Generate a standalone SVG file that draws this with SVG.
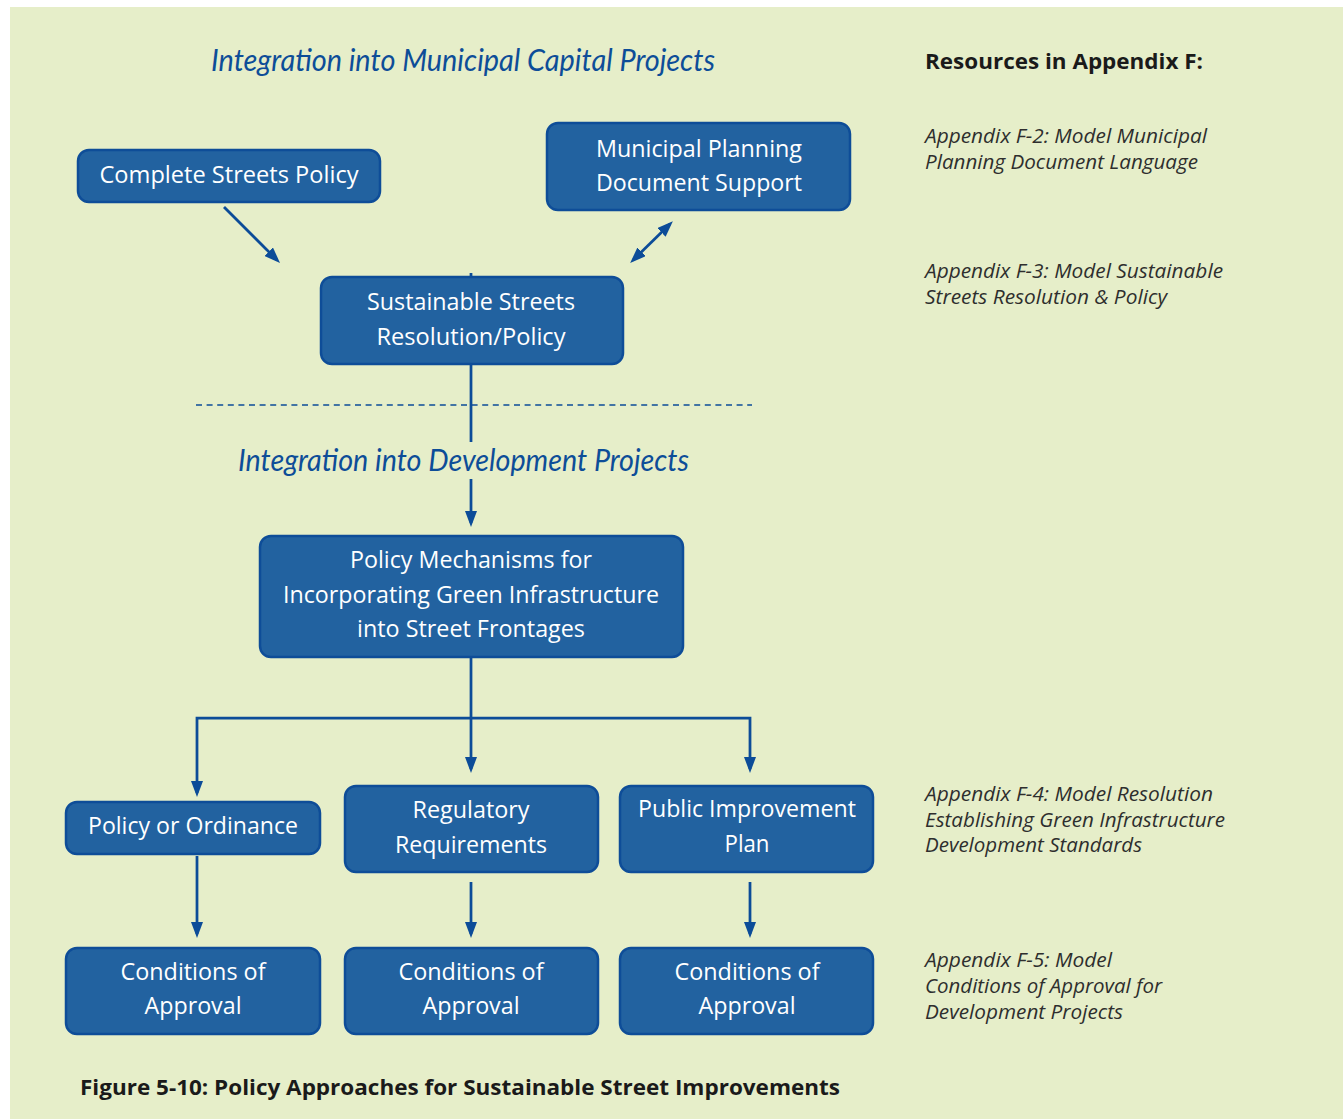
<svg xmlns="http://www.w3.org/2000/svg" width="1343" height="1119" viewBox="0 0 1343 1119">
<style>
.box{fill:#2262a0;stroke:#0e4d98;stroke-width:2.5}
.bt{font-family:"Open Sans","Liberation Sans",sans-serif;font-size:23.5px;fill:#ffffff;text-anchor:middle}
.hd{font-family:Lato,"Liberation Sans",sans-serif;font-style:italic;font-size:30px;fill:#0d4d98}
.ap{font-family:"Open Sans","Liberation Sans",sans-serif;font-style:italic;font-size:19.6px;fill:#2e2e2e}
.bold{font-family:"Open Sans","Liberation Sans",sans-serif;font-weight:bold;font-size:21px;fill:#1a1a1a}
.cn{stroke:#0c4c98;stroke-width:2.75;fill:none}
</style>
<defs>
<marker id="ah" viewBox="0 0 16 12" refX="12" refY="6" markerWidth="16" markerHeight="12" markerUnits="userSpaceOnUse" orient="auto-start-reverse">
<path d="M0,0 L16,6 L0,12 z" fill="#0c4c98"/>
</marker>
</defs>
<rect x="0" y="0" width="1343" height="1119" fill="#ffffff"/>
<rect x="10" y="7" width="1333" height="1112" fill="#e6eec9"/>

<text class="hd" x="211" y="71" textLength="504" lengthAdjust="spacingAndGlyphs">Integration into Municipal Capital Projects</text>
<text class="hd" x="238" y="471" textLength="451" lengthAdjust="spacingAndGlyphs">Integration into Development Projects</text>
<text class="bold" x="925" y="69" textLength="278" lengthAdjust="spacingAndGlyphs">Resources in Appendix F:</text>

<g id="appendix-texts">
<text class="ap" x="925" y="143" textLength="282" lengthAdjust="spacingAndGlyphs">Appendix F-2: Model Municipal</text>
<text class="ap" x="925" y="169" textLength="273" lengthAdjust="spacingAndGlyphs">Planning Document Language</text>
<text class="ap" x="925" y="278" textLength="298" lengthAdjust="spacingAndGlyphs">Appendix F-3: Model Sustainable</text>
<text class="ap" x="925" y="304" textLength="242" lengthAdjust="spacingAndGlyphs">Streets Resolution &amp; Policy</text>
<text class="ap" x="925" y="801" textLength="288" lengthAdjust="spacingAndGlyphs">Appendix F-4: Model Resolution</text>
<text class="ap" x="925" y="827" textLength="300" lengthAdjust="spacingAndGlyphs">Establishing Green Infrastructure</text>
<text class="ap" x="925" y="852" textLength="217" lengthAdjust="spacingAndGlyphs">Development Standards</text>
<text class="ap" x="925" y="967" textLength="187" lengthAdjust="spacingAndGlyphs">Appendix F-5: Model</text>
<text class="ap" x="925" y="993" textLength="237" lengthAdjust="spacingAndGlyphs">Conditions of Approval for</text>
<text class="ap" x="925" y="1019" textLength="198" lengthAdjust="spacingAndGlyphs">Development Projects</text>
</g>

<line x1="196" y1="405" x2="752" y2="405" stroke="#0c4c98" stroke-width="1.3" stroke-dasharray="6 4.6"/>

<g id="connectors">
<line class="cn" x1="224" y1="207" x2="277.2" y2="260.2" marker-end="url(#ah)"/>
<line class="cn" x1="670" y1="224" x2="633" y2="260.2" marker-start="url(#ah)" marker-end="url(#ah)"/>
<line class="cn" x1="471" y1="273" x2="471" y2="278"/>
<line class="cn" x1="471" y1="364" x2="471" y2="442"/>
<line class="cn" x1="471" y1="479" x2="471" y2="523" marker-end="url(#ah)"/>
<line class="cn" x1="471" y1="657" x2="471" y2="769" marker-end="url(#ah)"/>
<path class="cn" d="M197,793 V718 H750 V769" marker-start="url(#ah)" marker-end="url(#ah)"/>
<line class="cn" x1="197" y1="856" x2="197" y2="934" marker-end="url(#ah)"/>
<line class="cn" x1="471" y1="882" x2="471" y2="934" marker-end="url(#ah)"/>
<line class="cn" x1="750" y1="882" x2="750" y2="934" marker-end="url(#ah)"/>
</g>

<g id="complete-streets">
<rect class="box" x="78" y="150" width="302" height="52" rx="11"/>
<text class="bt" x="229" y="183" textLength="259" lengthAdjust="spacingAndGlyphs">Complete Streets Policy</text>
</g>
<g id="municipal-planning">
<rect class="box" x="547" y="123" width="303" height="87" rx="11"/>
<text class="bt" x="699" y="157" textLength="206" lengthAdjust="spacingAndGlyphs">Municipal Planning</text>
<text class="bt" x="699" y="191" textLength="206" lengthAdjust="spacingAndGlyphs">Document Support</text>
</g>
<g id="sustainable-streets">
<rect class="box" x="321" y="277" width="302" height="87" rx="11"/>
<text class="bt" x="471" y="310" textLength="208" lengthAdjust="spacingAndGlyphs">Sustainable Streets</text>
<text class="bt" x="471" y="345" textLength="189" lengthAdjust="spacingAndGlyphs">Resolution/Policy</text>
</g>
<g id="policy-mechanisms">
<rect class="box" x="260" y="536" width="423" height="121" rx="11"/>
<text class="bt" x="471" y="568" textLength="242" lengthAdjust="spacingAndGlyphs">Policy Mechanisms for</text>
<text class="bt" x="471" y="603" textLength="376" lengthAdjust="spacingAndGlyphs">Incorporating Green Infrastructure</text>
<text class="bt" x="471" y="637" textLength="228" lengthAdjust="spacingAndGlyphs">into Street Frontages</text>
</g>
<g id="policy-ordinance">
<rect class="box" x="66" y="802" width="254" height="52" rx="11"/>
<text class="bt" x="193" y="834" textLength="210" lengthAdjust="spacingAndGlyphs">Policy or Ordinance</text>
</g>
<g id="regulatory">
<rect class="box" x="345" y="786" width="253" height="86" rx="11"/>
<text class="bt" x="471" y="818" textLength="117" lengthAdjust="spacingAndGlyphs">Regulatory</text>
<text class="bt" x="471" y="853" textLength="152" lengthAdjust="spacingAndGlyphs">Requirements</text>
</g>
<g id="public-improvement">
<rect class="box" x="620" y="786" width="253" height="86" rx="11"/>
<text class="bt" x="747" y="817" textLength="218" lengthAdjust="spacingAndGlyphs">Public Improvement</text>
<text class="bt" x="747" y="852" textLength="45" lengthAdjust="spacingAndGlyphs">Plan</text>
</g>
<g id="conditions-1">
<rect class="box" x="66" y="948" width="254" height="86" rx="11"/>
<text class="bt" x="193" y="980" textLength="145" lengthAdjust="spacingAndGlyphs">Conditions of</text>
<text class="bt" x="193" y="1014" textLength="97" lengthAdjust="spacingAndGlyphs">Approval</text>
</g>
<g id="conditions-2">
<rect class="box" x="345" y="948" width="253" height="86" rx="11"/>
<text class="bt" x="471" y="980" textLength="145" lengthAdjust="spacingAndGlyphs">Conditions of</text>
<text class="bt" x="471" y="1014" textLength="97" lengthAdjust="spacingAndGlyphs">Approval</text>
</g>
<g id="conditions-3">
<rect class="box" x="620" y="948" width="253" height="86" rx="11"/>
<text class="bt" x="747" y="980" textLength="145" lengthAdjust="spacingAndGlyphs">Conditions of</text>
<text class="bt" x="747" y="1014" textLength="97" lengthAdjust="spacingAndGlyphs">Approval</text>
</g>

<text class="bold" x="80" y="1095" textLength="760" lengthAdjust="spacingAndGlyphs">Figure 5-10: Policy Approaches for Sustainable Street Improvements</text>
</svg>
